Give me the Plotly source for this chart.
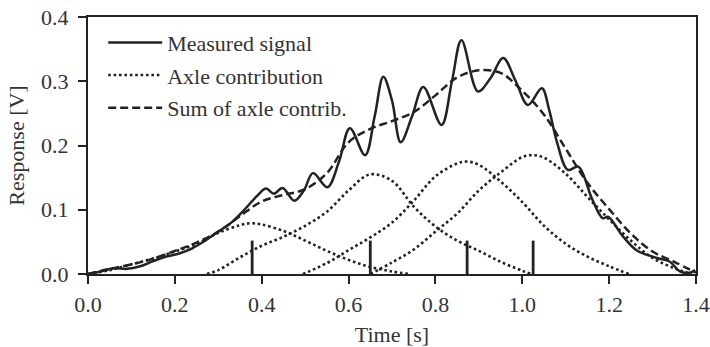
import plotly.graph_objects as go

# ---- data ----
meas_t = [0.00, 0.03, 0.06, 0.09, 0.12, 0.15, 0.18, 0.21, 0.24, 0.27, 0.30, 0.33, 0.36, 0.39,
          0.410, 0.428, 0.448, 0.475, 0.497, 0.518, 0.551, 0.578, 0.603, 0.638, 0.660, 0.680,
          0.700, 0.720, 0.746, 0.772, 0.814, 0.838, 0.860, 0.898, 0.927, 0.956, 0.985, 1.013,
          1.045, 1.062, 1.080, 1.105, 1.129, 1.160, 1.185, 1.198, 1.229, 1.263, 1.310, 1.340,
          1.363, 1.385, 1.398]
meas_v = [0.000, 0.004, 0.009, 0.008, 0.012, 0.020, 0.027, 0.032, 0.040, 0.052, 0.066, 0.080,
          0.100, 0.122, 0.133, 0.125, 0.134, 0.114, 0.130, 0.157, 0.135, 0.175, 0.227, 0.185,
          0.245, 0.307, 0.270, 0.205, 0.245, 0.291, 0.232, 0.300, 0.364, 0.284, 0.305, 0.336,
          0.300, 0.263, 0.289, 0.255, 0.205, 0.162, 0.167, 0.118, 0.087, 0.089, 0.061, 0.037,
          0.025, 0.019, 0.004, 0.002, 0.006]

sum_t = [0.00, 0.05, 0.10, 0.15, 0.20, 0.25, 0.30, 0.35, 0.40, 0.45, 0.50, 0.55, 0.60, 0.65,
         0.70, 0.75, 0.80, 0.85, 0.90, 0.95, 1.00, 1.05, 1.10, 1.15, 1.20, 1.25, 1.30, 1.35, 1.40]
sum_v = [0.000, 0.008, 0.015, 0.024, 0.036, 0.049, 0.066, 0.090, 0.113, 0.123, 0.132, 0.157,
         0.205, 0.226, 0.238, 0.252, 0.278, 0.306, 0.317, 0.313, 0.285, 0.248, 0.195, 0.142,
         0.101, 0.063, 0.035, 0.019, 0.002]

axle1_t = [0.00, 0.05, 0.10, 0.15, 0.20, 0.25, 0.30, 0.35, 0.375, 0.40, 0.45, 0.50, 0.55, 0.60, 0.65, 0.70, 0.74]
axle1_v = [0.000, 0.006, 0.015, 0.024, 0.035, 0.047, 0.064, 0.076, 0.079, 0.077, 0.067, 0.052, 0.036, 0.022, 0.011, 0.004, 0.000]

axle2_t = [0.274, 0.30, 0.35, 0.40, 0.45, 0.50, 0.55, 0.60, 0.649, 0.70, 0.75, 0.80, 0.85, 0.90, 0.95, 1.00, 1.02]
axle2_v = [0.000, 0.006, 0.026, 0.044, 0.058, 0.075, 0.097, 0.130, 0.155, 0.145, 0.105, 0.074, 0.052, 0.036, 0.019, 0.005, 0.000]

axle3_t = [0.495, 0.55, 0.60, 0.65, 0.70, 0.75, 0.80, 0.85, 0.872, 0.90, 0.95, 1.00, 1.05, 1.10, 1.15, 1.20, 1.245]
axle3_v = [0.000, 0.017, 0.037, 0.057, 0.080, 0.114, 0.152, 0.172, 0.175, 0.170, 0.144, 0.112, 0.075, 0.047, 0.027, 0.012, 0.000]

axle4_t = [0.65, 0.70, 0.75, 0.80, 0.85, 0.90, 0.95, 1.00, 1.025, 1.05, 1.10, 1.15, 1.20, 1.25, 1.30, 1.35, 1.39]
axle4_v = [0.000, 0.018, 0.038, 0.066, 0.094, 0.130, 0.158, 0.182, 0.185, 0.181, 0.156, 0.120, 0.085, 0.052, 0.025, 0.009, 0.000]

spike_t = [0.378, 0.650, 0.873, 1.025]
spike_h = [0.052, 0.052, 0.052, 0.052]

x_ticks = [0.0, 0.2, 0.4, 0.6, 0.8, 1.0, 1.2, 1.4]
y_ticks = [0.0, 0.1, 0.2, 0.3, 0.4]

# ---- styling ----
INK = "#222222"
FONT = "Liberation Serif"
FS = 22

fig = go.Figure()

axles = [(axle1_t, axle1_v), (axle2_t, axle2_v), (axle3_t, axle3_v), (axle4_t, axle4_v)]
for i, (t, v) in enumerate(axles):
    fig.add_trace(go.Scatter(
        x=t, y=v, mode="lines", line=dict(color=INK, width=2.6, dash="2.6px,2.8px", shape="spline"),
        name="Axle contribution", showlegend=(i == 0), legendrank=2, legendgroup="b",
        hoverinfo="skip"))

fig.add_trace(go.Scatter(
    x=sum_t, y=sum_v, mode="lines", line=dict(color=INK, width=2.5, dash="8px,4px", shape="spline"),
    name="Sum of axle contrib.", legendrank=3, legendgroup="c"))

fig.add_trace(go.Scatter(
    x=meas_t, y=meas_v, mode="lines", line=dict(color=INK, width=2.5, shape="spline"),
    name="Measured signal", legendrank=1, legendgroup="a"))

sx, sy = [], []
for t, h in zip(spike_t, spike_h):
    sx += [t, t, None]
    sy += [0, h, None]
fig.add_trace(go.Scatter(x=sx, y=sy, mode="lines", line=dict(color=INK, width=2.8),
                         showlegend=False, hoverinfo="skip"))

axis_common = dict(
    showgrid=False, zeroline=False, showline=True, linecolor=INK, linewidth=2,
    mirror=True, ticks="outside", ticklen=8, tickwidth=2, tickcolor=INK, automargin=False,
    tickfont=dict(family=FONT, size=FS, color="#333333"), tickformat=".1f",
)

fig.update_layout(
    width=710, height=347,
    margin=dict(l=88, r=14, t=17, b=73),
    paper_bgcolor="white", plot_bgcolor="white",
    font=dict(family=FONT, size=FS, color="#333333"),
    xaxis=dict(range=[0, 1.4], tickvals=x_ticks, ticklabelstandoff=2,
               title=dict(text="Time [s]", standoff=10, font=dict(family=FONT, size=FS)),
               **axis_common),
    yaxis=dict(range=[0, 0.4], tickvals=y_ticks, ticklabelstandoff=5,
               title=dict(text="Response [V]", standoff=10, font=dict(family=FONT, size=FS)),
               **axis_common),
    legend=dict(x=0.025, y=0.982, xanchor="left", yanchor="top", bgcolor="rgba(0,0,0,0)",
                borderwidth=0, font=dict(family=FONT, size=FS, color="#333333"),
                traceorder="grouped", tracegroupgap=1, itemwidth=54),
    showlegend=True,
)

fig.write_html("out.html")
